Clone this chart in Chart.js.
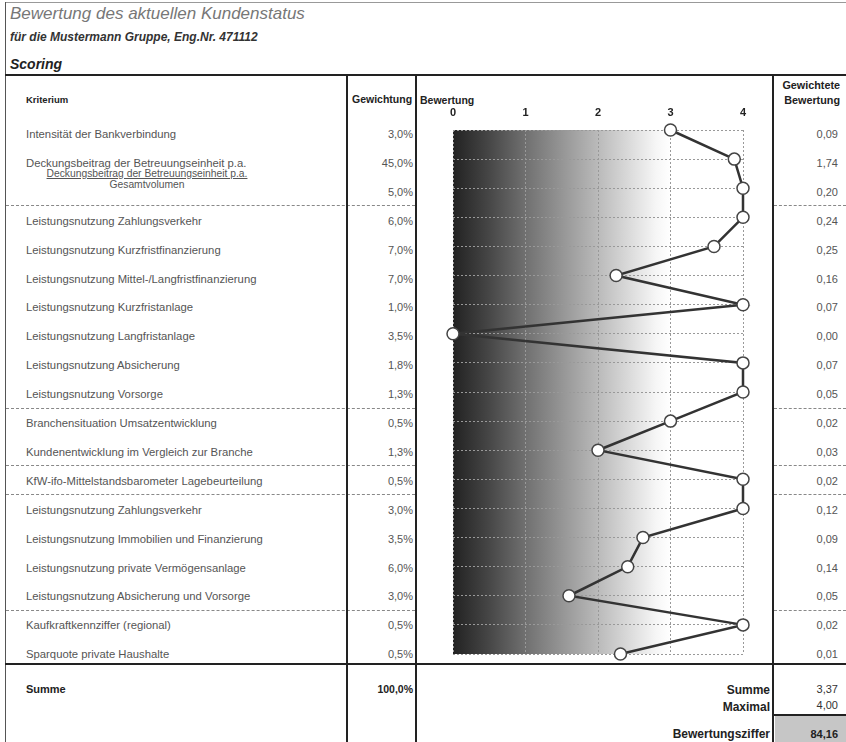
<!DOCTYPE html>
<html>
<head>
<meta charset="utf-8">
<script src="https://cdn.jsdelivr.net/npm/chart.js@4"></script>
<style>
  body { margin: 0; background: #fff; width: 846px; height: 742px; overflow: hidden; position: relative; font-family: "Liberation Sans", Arial, sans-serif; }
  .abs { position: absolute; white-space: nowrap; }
  .line { position: absolute; background: #222; }
  .dash { position: absolute; height: 0; border-top: 1px dashed #888; }
  .lbl { font-size: 11.3px; color: #555; }
  .num { font-size: 11px; color: #555; text-align: right; }
  .hdr { font-size: 9.5px; font-weight: bold; color: #222; }
  .tot { font-size: 12px; font-weight: bold; color: #222; text-align: right; }
  #chartBox { position: absolute; left: 418px; top: 77px; width: 354px; height: 585px; }
</style>
</head>
<body>
<div class="abs" style="left:10px;top:4px;font-size:17px;font-style:italic;color:#777;">Bewertung des aktuellen Kundenstatus</div>
<div class="abs" style="left:10px;top:30px;font-size:12px;font-style:italic;font-weight:bold;color:#333;">für die Mustermann Gruppe, Eng.Nr. 471112</div>
<div class="abs" style="left:10px;top:56px;font-size:14px;font-style:italic;font-weight:bold;color:#222;">Scoring</div>

<div class="abs hdr" style="left:26px;top:94px;">Kriterium</div>
<div class="abs hdr" style="left:352px;top:93px;font-size:10.5px;">Gewichtung</div>
<div class="abs hdr" style="left:420px;top:94px;font-size:10.5px;">Bewertung</div>
<div class="abs hdr" style="left:776px;top:78px;width:64px;text-align:right;line-height:15px;font-size:10.8px;">Gewichtete<br>Bewertung</div>

<div id="rows"></div>

<div id="chartBox"><canvas id="myChart"></canvas></div>

<div class="abs tot" style="left:26px;top:683px;font-size:11px;text-align:left;">Summe</div>
<div class="abs tot" style="left:340px;top:683px;width:73px;font-size:10.5px;">100,0%</div>
<div class="abs tot" style="left:600px;top:683px;width:170px;">Summe</div>
<div class="abs tot" style="left:600px;top:700px;width:170px;">Maximal</div>
<div class="abs tot" style="left:600px;top:727px;width:170px;">Bewertungsziffer</div>
<div class="abs num" style="left:776px;top:683px;width:62px;color:#333;">3,37</div>
<div class="abs num" style="left:776px;top:699px;width:62px;color:#333;">4,00</div>
<div class="abs" style="left:775px;top:716px;width:71px;height:26px;background:#c6c6c6;"></div>
<div class="abs tot" style="left:776px;top:728px;width:62px;font-size:11px;">84,16</div>

<!-- table rules -->
<div class="line" style="left:5px;top:2px;width:841px;height:1px;background:#999;"></div>
<div class="line" style="left:5px;top:2px;width:1px;height:740px;background:#555;"></div>
<div class="line" style="left:5px;top:74px;width:841px;height:2px;"></div>
<div class="line" style="left:5px;top:663px;width:841px;height:2px;"></div>
<div class="line" style="left:346px;top:74px;width:2px;height:668px;"></div>
<div class="line" style="left:415px;top:74px;width:2px;height:668px;"></div>
<div class="line" style="left:772px;top:74px;width:2px;height:668px;"></div>
<div class="line" style="left:773px;top:714px;width:73px;height:2px;"></div>

<script>
// Criteria (rows, top to bottom)
const criteria = [
    'Intensität der Bankverbindung',
    'Deckungsbeitrag der Betreuungseinheit p.a.',
    '',
    'Leistungsnutzung Zahlungsverkehr',
    'Leistungsnutzung Kurzfristfinanzierung',
    'Leistungsnutzung Mittel-/Langfristfinanzierung',
    'Leistungsnutzung Kurzfristanlage',
    'Leistungsnutzung Langfristanlage',
    'Leistungsnutzung Absicherung',
    'Leistungsnutzung Vorsorge',
    'Branchensituation Umsatzentwicklung',
    'Kundenentwicklung im Vergleich zur Branche',
    'KfW-ifo-Mittelstandsbarometer Lagebeurteilung',
    'Leistungsnutzung Zahlungsverkehr',
    'Leistungsnutzung Immobilien und Finanzierung',
    'Leistungsnutzung private Vermögensanlage',
    'Leistungsnutzung Absicherung und Vorsorge',
    'Kaufkraftkennziffer (regional)',
    'Sparquote private Haushalte'
];

// Gewichtung
const weights = ['3,0%', '45,0%', '5,0%', '6,0%', '7,0%', '7,0%', '1,0%', '3,5%', '1,8%', '1,3%',
                 '0,5%', '1,3%', '0,5%', '3,0%', '3,5%', '6,0%', '3,0%', '0,5%', '0,5%'];

// Bewertung (0..4)
const scores = [3, 3.88, 4, 4, 3.6, 2.25, 4, 0, 4, 4, 3, 2, 4, 4, 2.62, 2.41, 1.6, 4, 2.31];

// Gewichtete Bewertung
const weighted = ['0,09', '1,74', '0,20', '0,24', '0,25', '0,16', '0,07', '0,00', '0,07', '0,05',
                  '0,02', '0,03', '0,02', '0,12', '0,09', '0,14', '0,05', '0,02', '0,01'];

// Group breaks (dashed line after these row indices)
const groupBreaks = [2, 9, 11, 12, 16];

// x axis ticks
const scaleTicks = [0, 1, 2, 3, 4];

// Build the table rows
function buildRows() {
    const rows = document.getElementById('rows');
    let html = '';
    criteria.forEach((label, i) => {
        const y = 135 + i * 28.9 - 7;
        if (label) {
            html += `<div class="abs lbl" style="left:26px;top:${y}px;">${label}</div>`;
        }
        html += `<div class="abs num" style="left:350px;top:${y}px;width:63px;">${weights[i]}</div>`;
        html += `<div class="abs num" style="left:776px;top:${y}px;width:62px;">${weighted[i]}</div>`;
    });
    // fraction under Deckungsbeitrag
    html += `<div class="abs" style="left:40px;top:168px;width:214px;text-align:center;font-size:10.3px;color:#555;line-height:11px;"><span style="text-decoration:underline;">Deckungsbeitrag der Betreuungseinheit p.a.</span><br>Gesamtvolumen</div>`;
    groupBreaks.forEach(i => {
        const y = 135 + (i + 0.5) * 28.9 - 2;
        html += `<div class="dash" style="left:6px;top:${y}px;width:409px;"></div>`;
        html += `<div class="dash" style="left:774px;top:${y}px;width:72px;"></div>`;
    });
    rows.innerHTML = html;
}

// Gradient background in the plot area
const gradientBg = {
    id: 'gradientBg',
    beforeDraw(chart) {
        const { ctx, chartArea, scales } = chart;
        const x0 = scales.x.getPixelForValue(0);
        const x4 = scales.x.getPixelForValue(4);
        const g = ctx.createLinearGradient(x0, 0, x4, 0);
        g.addColorStop(0, '#222222');
        g.addColorStop(0.12, '#454545');
        g.addColorStop(0.25, '#707070');
        g.addColorStop(0.5, '#bababa');
        g.addColorStop(0.7, '#f6f6f6');
        g.addColorStop(0.75, '#ffffff');
        g.addColorStop(1, '#ffffff');
        ctx.save();
        ctx.fillStyle = g;
        ctx.fillRect(chartArea.left, chartArea.top, chartArea.right - chartArea.left, chartArea.bottom - chartArea.top);
        ctx.restore();
    }
};

function initChart() {
    const ctx = document.getElementById('myChart').getContext('2d');
    const points = scores.map((v, i) => ({ x: v, y: i }));

    new Chart(ctx, {
        type: 'scatter',
        data: {
            datasets: [{
                data: points,
                showLine: true,
                borderColor: '#333',
                borderWidth: 2.5,
                pointRadius: 6,
                pointBackgroundColor: '#fff',
                pointBorderColor: '#444',
                pointBorderWidth: 1.5,
                clip: false
            }]
        },
        plugins: [gradientBg],
        options: {
            responsive: true,
            maintainAspectRatio: false,
            animation: false,
            layout: { padding: { left: 35, right: 29, top: 29, bottom: 8 } },
            plugins: { legend: { display: false }, tooltip: { enabled: false } },
            scales: {
                x: {
                    type: 'linear',
                    position: 'top',
                    min: 0,
                    max: 4,
                    afterFit: (scale) => { scale.height = 24; },
                    afterBuildTicks: (scale) => { scale.ticks = scaleTicks.map(v => ({ value: v })); },
                    ticks: { padding: 10, color: '#222', font: { family: 'Liberation Sans', size: 11, weight: 'bold' } },
                    grid: { color: '#999', lineWidth: 1, drawTicks: false },
                    border: { display: false, dash: [2, 2] }
                },
                y: {
                    type: 'linear',
                    reverse: true,
                    min: 0,
                    max: criteria.length - 1,
                    afterFit: (scale) => { scale.width = 0; },
                    ticks: { display: false, stepSize: 1 },
                    grid: { color: '#999', lineWidth: 1, drawTicks: false },
                    border: { display: false, dash: [2, 2] }
                }
            }
        }
    });
}

document.addEventListener('DOMContentLoaded', function() {
    buildRows();
    initChart();
});
</script>
</body>
</html>
